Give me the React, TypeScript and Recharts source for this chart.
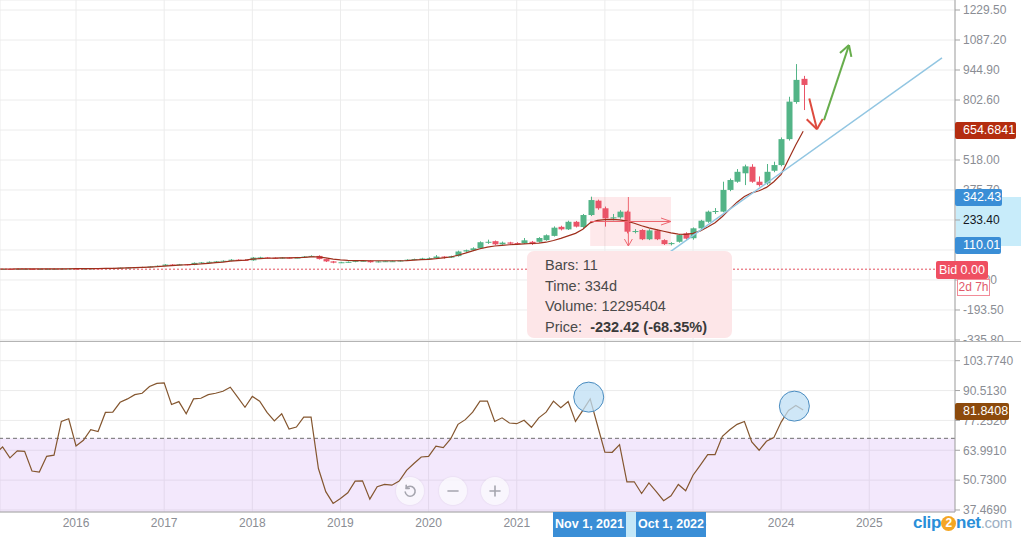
import React from "react";
import {
  Bar,
  CartesianGrid,
  ComposedChart,
  Line,
  ReferenceArea,
  ReferenceDot,
  ReferenceLine,
  XAxis,
  YAxis,
} from "recharts";

// monthly bars, first one is Feb 2015 (month 1 counted from Jan 2015)
const FIRST_MONTH = 1;

const OPEN = [
  0.9, 1.0, 1.2, 1.1, 1.4, 1.5, 1.3, 1.4, 1.8, 1.9, 2.6,
  3.0, 2.7, 3.2, 4.0, 3.9, 5.2, 5.5, 7.0, 8.0, 9.5, 10.5, 13,
  16, 22, 21, 23, 20, 30, 32, 35, 37, 40, 45, 44,
  42, 55, 56, 54, 51, 55, 53, 55, 60, 63, 48, 37,
  31, 33, 35, 40, 40, 33, 37, 38, 38, 41, 45, 48,
  51, 52, 60, 55, 62, 84, 90, 99, 128, 133, 118, 127,
  124, 123, 130, 130, 138, 158, 201, 189, 225, 200, 257, 325,
  289, 241, 246, 273, 178, 186, 142, 184, 138, 119, 130, 170,
  147, 194, 225, 272, 273, 376, 415, 455, 486, 415, 407, 467,
  494, 617, 793, 903,
];
const HIGH = [
  1.3, 1.5, 1.5, 1.7, 1.9, 1.8, 1.7, 2.2, 2.3, 3.0, 3.5,
  3.4, 3.6, 4.5, 4.6, 5.8, 6.2, 7.6, 8.7, 10.2, 11.5, 14, 17.5,
  24, 24, 25, 24, 32, 34, 37, 39, 42, 48, 47, 46,
  58, 59, 58, 56, 57, 57, 58, 62, 66, 66, 50, 39,
  35, 37, 42, 43, 42, 39, 40, 41, 43, 47, 50, 54,
  56, 67, 62, 64, 88, 93, 104, 132, 140, 136, 131, 130,
  128, 148, 134, 152, 165, 203, 206, 230, 229, 262, 344, 330,
  297, 262, 280, 278, 190, 190, 190, 188, 142, 128, 166, 175,
  198, 234, 278, 290, 415, 430, 475, 496, 498, 440, 499, 510,
  625, 818, 973, 917,
];
const LOW = [
  0.6, 0.7, 0.8, 0.8, 1.1, 1.0, 1.0, 1.1, 1.5, 1.6, 2.2,
  2.3, 2.5, 3.0, 3.5, 3.7, 4.9, 5.2, 6.6, 7.6, 9.0, 10.0, 12.5,
  15, 19, 20, 18, 19, 28, 30, 33, 35, 38, 41, 40,
  40, 52, 51, 49, 50, 51, 52, 53, 58, 46, 34, 28,
  29, 31, 33, 37, 31, 32, 35, 36, 36, 39, 43, 46,
  48, 50, 50, 53, 60, 82, 88, 97, 120, 114, 116, 117,
  116, 120, 115, 127, 135, 155, 184, 186, 198, 196, 252, 282,
  202, 232, 240, 170, 170, 138, 138, 138, 115, 113, 126, 140,
  140, 188, 220, 262, 270, 370, 410, 399, 410, 392, 400, 460,
  488, 610, 785, 755,
];
const CLOSE = [
  1.0, 1.2, 1.1, 1.4, 1.5, 1.3, 1.4, 1.8, 1.9, 2.6, 3.0,
  2.7, 3.2, 4.0, 3.9, 5.2, 5.5, 7.0, 8.0, 9.5, 10.5, 13, 16,
  22, 21, 23, 20, 30, 32, 35, 37, 40, 45, 44, 42,
  55, 56, 54, 51, 55, 53, 55, 60, 63, 48, 37, 31,
  33, 35, 40, 40, 33, 37, 38, 38, 41, 45, 48, 51,
  52, 60, 55, 62, 84, 90, 99, 128, 130, 118, 126, 121,
  120, 137, 119, 148, 161, 197, 189, 225, 202, 257, 328, 289,
  241, 246, 273, 178, 181, 142, 184, 142, 119, 124, 162, 145,
  194, 230, 273, 276, 376, 423, 462, 488, 415, 399, 462, 494,
  617, 795, 898, 874,
];
const MA = [
  0.8, 0.9, 1.0, 1.1, 1.2, 1.3, 1.4, 1.5, 1.7, 1.9, 2.2,
  2.6, 2.8, 3.0, 3.3, 3.7, 4.2, 5.0, 5.9, 7.0, 8.3, 10.0, 12.0,
  15, 17, 19, 21, 23, 25, 28, 31, 34, 38, 41, 43,
  48, 50, 52, 53, 54, 54, 55, 56, 58, 58, 54, 48,
  44, 42, 41, 41, 40, 40, 40, 40, 40, 41, 43, 45,
  47, 50, 54, 58, 66, 76, 87, 97, 105, 110, 113, 116,
  118, 120, 122, 124, 128, 136, 146, 158, 170, 190, 220, 232,
  235, 236, 234, 228, 218, 206, 196, 188, 180, 172, 166, 165,
  170, 182, 200, 220, 250, 285, 318, 345, 362, 372, 388, 415,
  450, 520, 590, 654.68,
];
const RSI = [
  62.3, 65.5, 60.6, 63.7, 63.5, 54.8, 54.3, 61.3, 61.8, 76.8, 78.0,
  65.9, 68.4, 73.1, 72.3, 80.8, 80.9, 85.3, 86.8, 88.7, 89.3, 92.3, 93.7,
  93.9, 84.3, 85.6, 80.2, 86.8, 87.1, 88.7, 89.3, 90.2, 92.0, 87.6, 83.1,
  87.9, 85.8, 80.8, 77.0, 80.2, 73.4, 74.3, 78.7, 78.7, 55.9, 45.6, 40.4,
  42.6, 45.1, 50.3, 50.4, 42.3, 47.8, 48.8, 48.5, 50.3, 55.1, 58.1, 61.0,
  61.3, 65.8, 65.2, 69.0, 75.5, 77.6, 80.9, 85.8, 85.8, 76.8, 78.4, 76.1,
  75.8, 77.3, 74.2, 78.4, 80.9, 85.8, 82.9, 85.6, 76.8, 81.7, 86.8, 75.0,
  63.2, 63.1, 66.5, 50.0, 50.0, 44.8, 49.5, 45.6, 41.6, 43.8, 48.8, 46.0,
  52.9, 57.4, 62.1, 62.1, 70.2, 73.1, 75.5, 76.8, 67.7, 64.0, 68.0, 69.6,
  76.5, 81.7, 83.9, 81.84,
];

const YEARS = ["2016", "2017", "2018", "2019", "2020", "2021", "2022", "2023", "2024", "2025"];
const YEAR_TICKS = YEARS.map((y) => (Number(y) - 2015) * 12);
const PRICE_TICKS = [-335.8, -193.5, -51.2, 91.1, 233.4, 375.7, 518, 660.3, 802.6, 944.9, 1087.2, 1229.5];
const RSI_TICKS = [37.469, 50.73, 63.991, 77.252, 90.513, 103.774];
const RSI_LEVEL = 69.3;

// measuring tool: Nov 2021 -> Oct 2022
const MEASURE = { from: 82, to: 93, low: 110.01, high: 342.43 };

const X_DOMAIN: [number, number] = [1.647, 131.67];
const PRICE_DOMAIN: [number, number] = [-340.6, 1277];
const RSI_DOMAIN: [number, number] = [36.58, 112.52];

// drawn lines, in chart units (month, price)
const TREND = [{ x: 92.4, y: 70 }, { x: 129.9, y: 1002 }];
const RED_ARROW = [
  [{ x: 111.83, y: 810 }, { x: 112.88, y: 664 }],
  [{ x: 111.48, y: 711 }, { x: 112.88, y: 664 }],
  [{ x: 113.66, y: 712 }, { x: 112.88, y: 664 }],
];
const GREEN_ARROW = [
  [{ x: 113.83, y: 707 }, { x: 117.24, y: 1063 }],
  [{ x: 116.01, y: 1025 }, { x: 117.24, y: 1063 }],
  [{ x: 117.56, y: 1007 }, { x: 117.24, y: 1063 }],
];
const MID_P = (MEASURE.low + MEASURE.high) / 2;
const MEASURE_ARROWS = [
  [{ x: MEASURE.from, y: MID_P }, { x: MEASURE.to, y: MID_P }],
  [{ x: 91.64, y: MID_P + 16.6 }, { x: MEASURE.to, y: MID_P }],
  [{ x: 91.64, y: MID_P - 16.6 }, { x: MEASURE.to, y: MID_P }],
  [{ x: 87.2, y: MEASURE.high }, { x: 87.2, y: MEASURE.low }],
  [{ x: 86.66, y: 143 }, { x: 87.2, y: MEASURE.low }],
  [{ x: 87.74, y: 143 }, { x: 87.2, y: MEASURE.low }],
];
const CIRCLES = [{ x: 81.8, y: 87.6 }, { x: 109.8, y: 83.6 }];

const rows = CLOSE.map((c, k) => ({
  m: FIRST_MONTH + k,
  o: OPEN[k],
  h: HIGH[k],
  l: LOW[k],
  c,
  ma: MA[k],
  rsi: RSI[k],
}));

const GREEN = "#53b487";
const RED = "#ea5468";
const GRID = "#ececec";
const AXIS = "#a3a3a3";
const TEXT = "#8a8d94";
const FONT = "'Liberation Sans', Arial, sans-serif";

function Candle(props: any) {
  const { x, y, width, height, payload } = props;
  if (!payload || x == null || payload.m < X_DOMAIN[0]) return null;
  const top = height < 0 ? y + height : y;
  const h = Math.abs(height);
  const range = payload.h - payload.l || 1;
  const k = h / range;
  const yo = top + (payload.h - payload.o) * k;
  const yc = top + (payload.h - payload.c) * k;
  const color = payload.c >= payload.o ? GREEN : RED;
  const cx = Math.round(x + width / 2) + 0.5;
  const bodyTop = Math.min(yo, yc);
  const bodyH = Math.max(1, Math.abs(yo - yc));
  return (
    <g>
      <line x1={cx} x2={cx} y1={top} y2={top + Math.max(h, 1)} stroke={color} strokeWidth={1} />
      <rect x={cx - 3} y={bodyTop} width={6} height={bodyH} fill={color} />
    </g>
  );
}

function PriceTick(props: any) {
  const v = props.payload.value;
  const inside = v > MEASURE.low && v < MEASURE.high;
  return (
    <text x={props.x} y={props.y} dy={4} fontSize={12} fill={inside ? "#131722" : TEXT} textAnchor="start" fontFamily={FONT}>
      {v.toFixed(2)}
    </text>
  );
}

function Badge({ top, left, bg, text, width }: { top: number; left: number; bg: string; text: string; width: number }) {
  return (
    <div
      style={{
        position: "absolute",
        top,
        left,
        width,
        height: 17,
        background: bg,
        color: "#fff",
        fontSize: 12.5,
        lineHeight: "17px",
        paddingLeft: 8,
        boxSizing: "border-box",
        borderRadius: 2,
      }}
    >
      {text}
    </div>
  );
}

function RoundButton({ left, children }: { left: number; children: React.ReactNode }) {
  return (
    <div
      style={{
        position: "absolute",
        left: left - 14,
        top: 477,
        width: 28,
        height: 28,
        borderRadius: "50%",
        background: "rgba(250,249,252,0.8)",
        boxShadow: "0 0 2px rgba(0,0,0,0.1)",
        display: "flex",
        alignItems: "center",
        justifyContent: "center",
      }}
    >
      <svg width={16} height={16} viewBox="0 0 16 16" fill="none" stroke="#a5a5ae" strokeWidth={1.6} strokeLinecap="round">
        {children}
      </svg>
    </div>
  );
}

export default function App() {
  return (
    <div style={{ position: "absolute", left: 0, top: 0, width: 1021, height: 537, background: "#fff", fontFamily: FONT, overflow: "hidden" }}>
      {/* highlighted price range on the axis */}
      <div style={{ position: "absolute", left: 956, top: 197, width: 65, height: 49, background: "#c8ecfa" }} />

      <div style={{ position: "absolute", left: 0, top: 0 }}>
        <ComposedChart width={1021} height={341} data={rows} margin={{ top: 0, right: 0, bottom: 0, left: 0 }}>
          <CartesianGrid stroke={GRID} />
          <XAxis dataKey="m" type="number" domain={X_DOMAIN} allowDataOverflow ticks={YEAR_TICKS} hide />
          <YAxis
            orientation="right"
            type="number"
            width={66}
            domain={PRICE_DOMAIN}
            allowDataOverflow
            ticks={PRICE_TICKS}
            interval={0}
            stroke={AXIS}
            tickSize={5}
            tickMargin={3}
            tick={<PriceTick />}
          />
          <ReferenceArea x1={MEASURE.from} x2={MEASURE.to} y1={MEASURE.low} y2={MEASURE.high} fill="#f23645" fillOpacity={0.11} stroke="none" />
          <ReferenceLine y={0} stroke="#e2505f" strokeDasharray="2 2" />
          <Bar dataKey={(d: any) => [d.l, d.h]} barSize={6} shape={<Candle />} isAnimationActive={false} />
          <Line dataKey="ma" type="linear" stroke="#9e2f1c" strokeWidth={1.2} dot={false} activeDot={false} isAnimationActive={false} />
          <ReferenceLine segment={TREND} stroke="#92c6e2" strokeWidth={1.5} />
          {MEASURE_ARROWS.map((s, k) => (
            <ReferenceLine key={"m" + k} segment={s} stroke="#ee6670" strokeWidth={1} />
          ))}
          {RED_ARROW.map((s, k) => (
            <ReferenceLine key={"r" + k} segment={s} stroke="#de4b3e" strokeWidth={2} />
          ))}
          {GREEN_ARROW.map((s, k) => (
            <ReferenceLine key={"g" + k} segment={s} stroke="#67ad4c" strokeWidth={2} />
          ))}
        </ComposedChart>
      </div>

      <div style={{ position: "absolute", left: 0, top: 341 }}>
        <ComposedChart width={1021} height={196} data={rows} margin={{ top: 0, right: 0, bottom: 0, left: 0 }}>
          <CartesianGrid stroke={GRID} />
          <ReferenceArea y1={RSI_DOMAIN[0]} y2={RSI_LEVEL} fill="#c58af0" fillOpacity={0.2} stroke="none" />
          <XAxis
            dataKey="m"
            type="number"
            domain={X_DOMAIN}
            allowDataOverflow
            ticks={YEAR_TICKS}
            interval={0}
            height={25}
            tickFormatter={(v: number) => String(2015 + v / 12)}
            stroke={AXIS}
            tickLine={false}
            tickSize={4}
            tickMargin={2}
            tick={{ fill: TEXT, fontSize: 12, fontFamily: FONT }}
          />
          <YAxis
            orientation="right"
            type="number"
            width={66}
            domain={RSI_DOMAIN}
            allowDataOverflow
            ticks={RSI_TICKS}
            interval={0}
            stroke={AXIS}
            tickSize={5}
            tickMargin={3}
            tickFormatter={(v: number) => v.toFixed(4)}
            tick={{ fill: TEXT, fontSize: 12, fontFamily: FONT, textAnchor: "start" }}
          />
          <ReferenceLine y={RSI_LEVEL} stroke="#6f6f6f" strokeDasharray="4 3" />
          <Line dataKey="rsi" type="linear" stroke="#84562f" strokeWidth={1.2} dot={false} activeDot={false} isAnimationActive={false} />
          {CIRCLES.map((c, k) => (
            <ReferenceDot key={k} x={c.x} y={c.y} r={15} fill="#bfdff4" fillOpacity={0.75} stroke="#4a8cc0" strokeWidth={1} />
          ))}
        </ComposedChart>
      </div>

      {/* pane separator */}
      <div style={{ position: "absolute", left: 0, top: 341, width: 1021, height: 1, background: "#b4b4b4" }} />

      {/* axis badges */}
      <Badge top={122} left={955} width={61} bg="#b42d10" text="654.6841" />
      <Badge top={189} left={955} width={47} bg="#3a8ed6" text="342.43" />
      <Badge top={237} left={955} width={46} bg="#3a8ed6" text="110.01" />
      <Badge top={403} left={955} width={54} bg="#8c4a0c" text="81.8408" />
      <div style={{ position: "absolute", left: 936, top: 261, width: 52, height: 18, background: "#ef4f61", color: "#fff", fontSize: 12.5, lineHeight: "18px", textAlign: "center", borderRadius: 2 }}>
        Bid 0.00
      </div>
      <div style={{ position: "absolute", left: 957, top: 279, width: 33, height: 17, background: "#fff", border: "1px solid #f28b98", boxSizing: "border-box", color: "#e15a6c", fontSize: 12, lineHeight: "15px", textAlign: "center" }}>
        2d 7h
      </div>

      {/* measuring tooltip */}
      <div
        style={{
          position: "absolute",
          left: 527,
          top: 251,
          width: 205,
          height: 87,
          background: "#fde6e8",
          borderRadius: 7,
          color: "#4a4a4a",
          fontSize: 14.5,
          lineHeight: "20.5px",
          padding: "4px 0 0 18px",
          boxSizing: "border-box",
        }}
      >
        <div>Bars: 11</div>
        <div>Time: 334d</div>
        <div>Volume: 12295404</div>
        <div>
          Price:&nbsp;&nbsp;<b style={{ color: "#3a3a3a" }}>-232.42 (-68.35%)</b>
        </div>
      </div>

      {/* time axis badges */}
      <div style={{ position: "absolute", left: 626, top: 512, width: 10, height: 25, background: "#c4e8f8" }} />
      <div style={{ position: "absolute", left: 553, top: 512, width: 73, height: 25, background: "#3a8ed6", color: "#fff", fontSize: 12.5, fontWeight: "bold", lineHeight: "25px", textAlign: "center" }}>
        Nov 1, 2021
      </div>
      <div style={{ position: "absolute", left: 636, top: 512, width: 70, height: 25, background: "#3a8ed6", color: "#fff", fontSize: 12.5, fontWeight: "bold", lineHeight: "25px", textAlign: "center" }}>
        Oct 1, 2022
      </div>

      {/* zoom buttons */}
      <RoundButton left={410}>
        <path d="M4.2 5.2 A5 5 0 1 1 3.2 9" />
        <path d="M4.2 2.2 L4.2 5.4 L7.2 5.4" />
      </RoundButton>
      <RoundButton left={453}>
        <path d="M3 8 L13 8" />
      </RoundButton>
      <RoundButton left={495}>
        <path d="M3 8 L13 8 M8 3 L8 13" />
      </RoundButton>

      {/* watermark */}
      <div style={{ position: "absolute", left: 913, top: 513, fontSize: 17, fontWeight: "bold", color: "#2a8fd9", letterSpacing: -0.3, whiteSpace: "nowrap" }}>
        clip
        <span style={{ display: "inline-block", width: 15, height: 15, borderRadius: "50%", background: "#f5a623", color: "#fff", fontSize: 12, lineHeight: "15px", textAlign: "center", verticalAlign: 1 }}>2</span>
        net<span style={{ color: "#9db0c4", fontWeight: "normal", fontSize: 15 }}>.com</span>
      </div>
    </div>
  );
}
